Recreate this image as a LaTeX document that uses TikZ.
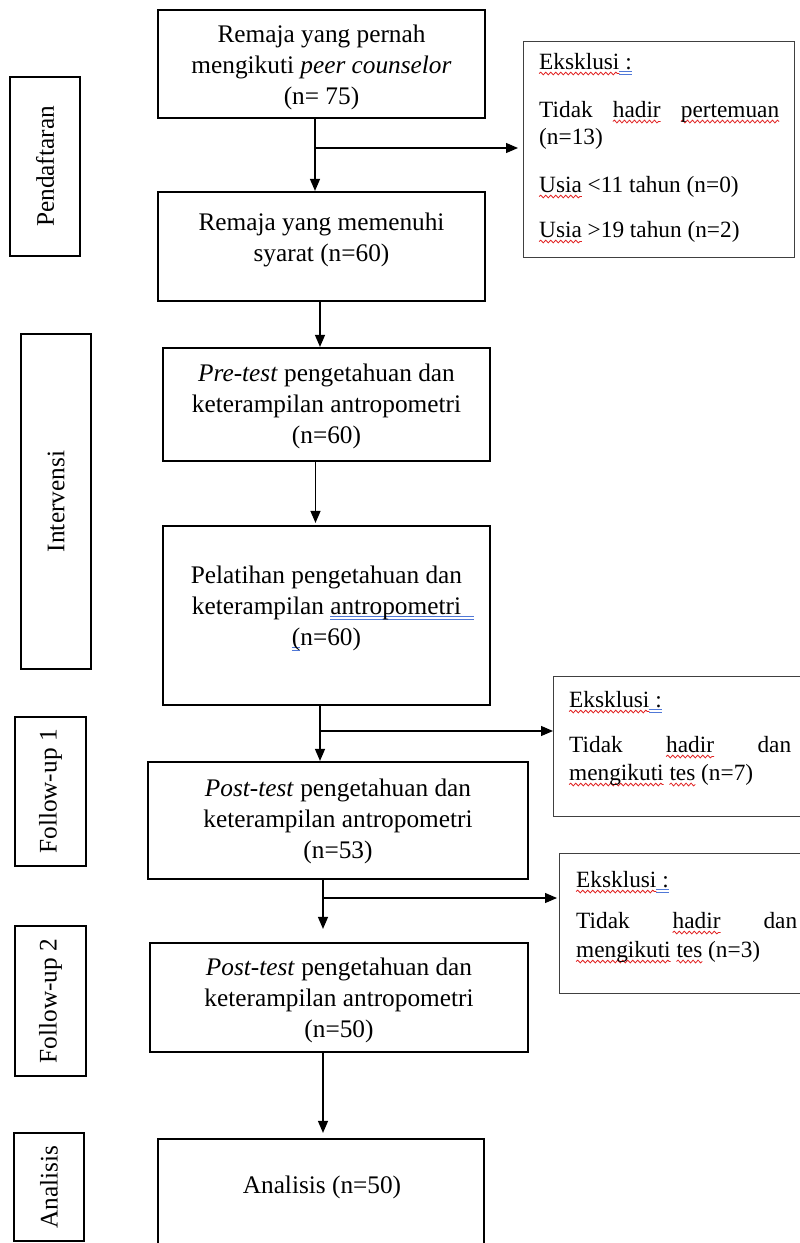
\documentclass[tikz,border=0pt]{standalone}
\usepackage{fontspec}
\setmainfont{Liberation Serif}
\usetikzlibrary{arrows.meta,decorations.pathmorphing}
\definecolor{wred}{RGB}{225,35,35}
\definecolor{wblue}{RGB}{80,120,215}
\newsavebox\rwbox
\newcommand\rw[1]{\sbox\rwbox{#1}\rlap{\tikz[overlay,baseline=0pt]\draw[wred,line width=0.8pt,decorate,decoration={snake,amplitude=1.4pt,segment length=5pt}] (0pt,-4.5pt) -- (\wd\rwbox,-4.5pt);}\usebox\rwbox}
\newcommand\bdlx[1]{\rlap{\textcolor{wblue}{\rule[-3pt]{#1}{0.9pt}}}\rlap{\textcolor{wblue}{\rule[-5.5pt]{#1}{0.9pt}}}}
\newcommand\bdl[1]{\sbox\rwbox{#1}\bdlx{\wd\rwbox}\usebox\rwbox}
\begin{document}
\begin{tikzpicture}[x=1pt,y=-1pt,
  every node/.style={font=\fontsize{25.3}{31}\selectfont},
  mbox/.style={draw, line width=2.2pt, inner sep=0pt},
  txt/.style={align=center, inner sep=0pt},
  lbl/.style={draw, line width=2.2pt, rotate=90, inner sep=0pt},
  xbox/.style={draw=black!75, line width=1.3pt, inner sep=0pt, anchor=north west},
  xtxt/.style={inner sep=0pt, anchor=base west, font=\fontsize{23.3}{28}\selectfont},
  arr/.style={line width=1.2pt, -{Triangle[length=12pt,width=10pt]}}]
\useasboundingbox (0,0) rectangle (800,1243);
\fill[white] (0,0) rectangle (800,1243);

% main boxes
\node[mbox, minimum width=327pt, minimum height=108pt] (b1) at (321.5,64) {};
\node[txt] (b1t) at (321.5,67) {Remaja yang pernah\\mengikuti \textit{peer counselor}\\(n= 75)};
\node[mbox, minimum width=327pt, minimum height=109pt] (b2) at (321.5,246.5) {};
\node[txt] (b2t) at (321.5,239.5) {Remaja yang memenuhi\\syarat (n=60)};
\node[mbox, minimum width=327pt, minimum height=113pt] (b3) at (326.5,404.5) {};
\node[txt] (b3t) at (326.5,406.5) {\textit{Pre-test} pengetahuan dan\\keterampilan antropometri\\(n=60)};
\node[mbox, minimum width=327pt, minimum height=179pt] (b4) at (326.5,615.5) {};
\node[txt] (b4t) at (326.5,608) {Pelatihan pengetahuan dan\\keterampilan \bdl{antropometri}\bdlx{13pt}\\\bdl{(}n=60)};
\node[mbox, minimum width=380pt, minimum height=117pt] (b5) at (338,820.5) {};
\node[txt] (b5t) at (338,821) {\textit{Post-test} pengetahuan dan\\keterampilan antropometri\\(n=53)};
\node[mbox, minimum width=378pt, minimum height=109pt] (b6) at (339,997.5) {};
\node[txt] (b6t) at (339,1000.5) {\textit{Post-test} pengetahuan dan\\keterampilan antropometri\\(n=50)};
\node[mbox, minimum width=326pt, minimum height=111pt] (b7) at (321,1194.5) {};
\node[txt] (b7t) at (322,1187) {Analisis (n=50)};

% phase labels
\node[lbl, minimum width=179pt, minimum height=70pt] (l1) at (45,166.5) {Pendaftaran};
\node[lbl, minimum width=335pt, minimum height=70pt] (l2) at (56,501.5) {Intervensi};
\node[lbl, minimum width=149pt, minimum height=71pt] (l3) at (50.5,791.5) {Follow-up 1};
\node[lbl, minimum width=150pt, minimum height=71pt] (l4) at (50.5,1001) {Follow-up 2};
\node[lbl, minimum width=108pt, minimum height=70pt] (l5) at (49,1187) {Analisis};

% exclusion boxes
\node[xbox, minimum width=271pt, minimum height=216pt] (x1) at (523,41) {};
\node[xtxt] (x1a) at (539,69) {\rw{Eksklusi}\bdl{\ :}};
\node[xtxt] (x1b) at (539,117) {\makebox[240pt][s]{Tidak \rw{hadir} \rw{pertemuan}}};
\node[xtxt] (x1c) at (539,144) {(n=13)};
\node[xtxt] (x1d) at (539,192) {\rw{Usia} <11 tahun (n=0)};
\node[xtxt] (x1e) at (539,237) {\rw{Usia} >19 tahun (n=2)};

\node[xbox, minimum width=252pt, minimum height=140pt] (x2) at (553,676) {};
\node[xtxt] (x2a) at (569,707) {\rw{Eksklusi}\bdl{\ :}};
\node[xtxt] (x2b) at (569,752) {\makebox[222pt][s]{Tidak \rw{hadir} dan}};
\node[xtxt] (x2c) at (569,780) {\rw{mengikuti} \rw{tes} (n=7)};

\node[xbox, minimum width=246pt, minimum height=140pt] (x3) at (559,853) {};
\node[xtxt] (x3a) at (576,887) {\rw{Eksklusi}\bdl{\ :}};
\node[xtxt] (x3b) at (576,928) {\makebox[221pt][s]{Tidak \rw{hadir} dan}};
\node[xtxt] (x3c) at (576,957) {\rw{mengikuti} \rw{tes} (n=3)};

% connectors
\coordinate (c1) at (315,148);
\coordinate (c2) at (320,320);
\coordinate (c3) at (315.5,490);
\coordinate (c4) at (320,731);
\coordinate (c5) at (323,898);
\coordinate (c6) at (323,1090);
\draw[arr] (b1.south -| c1) -- (b2.north -| c1);
\draw[arr, shorten >=5pt] (c1) -- (x1.west |- c1);
\draw[arr] (b2.south -| c2) -- (b3.north -| c2);
\draw[arr, shorten >=2pt] (b3.south -| c3) -- (b4.north -| c3);
\draw[arr] (b4.south -| c4) -- (b5.north -| c4);
\draw[arr] (c4) -- (x2.west |- c4);
\draw[arr, shorten >=13pt] (b5.south -| c5) -- (b6.north -| c5);
\draw[arr, shorten >=2pt] (c5) -- (x3.west |- c5);
\draw[arr, shorten >=5pt] (b6.south -| c6) -- (b7.north -| c6);
\end{tikzpicture}
\end{document}
